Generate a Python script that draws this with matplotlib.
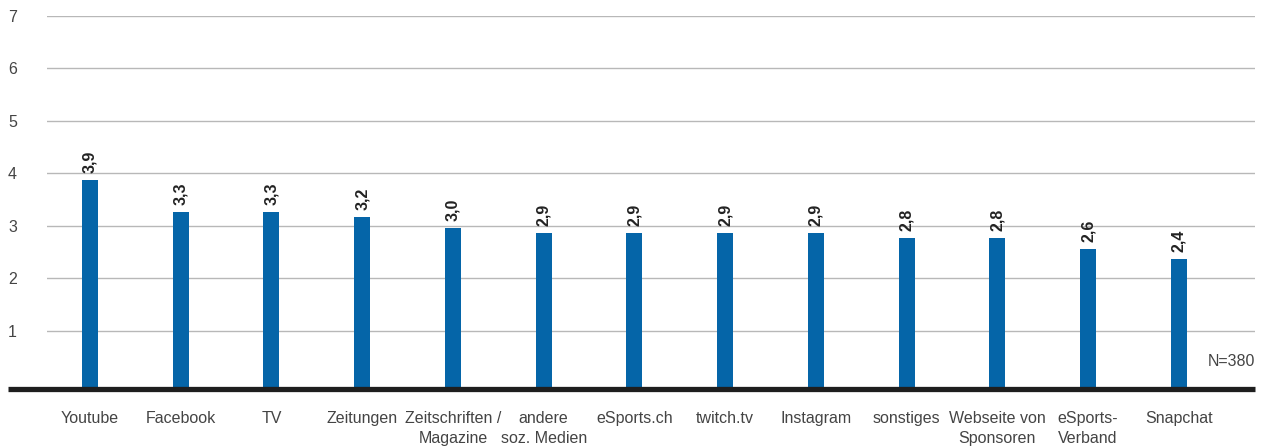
import numpy as np
import matplotlib
matplotlib.use("Agg")
import matplotlib.pyplot as plt
from matplotlib.lines import Line2D

plt.rcParams['font.family'] = ['Liberation Sans', 'DejaVu Sans']

# Daten
kategorien = ["Youtube", "Facebook", "TV", "Zeitungen", "Zeitschriften /\nMagazine",
              "andere\nsoz. Medien", "eSports.ch", "twitch.tv", "Instagram", "sonstiges",
              "Webseite von\nSponsoren", "eSports-\nVerband", "Snapchat"]
werte = [3.88, 3.26, 3.26, 3.17, 2.96, 2.86, 2.86, 2.86, 2.86, 2.77, 2.77, 2.56, 2.36]
labels = ["3,9", "3,3", "3,3", "3,2", "3,0", "2,9", "2,9", "2,9", "2,9", "2,8", "2,8", "2,6", "2,4"]
yticks = [1, 2, 3, 4, 5, 6, 7]

W, H = 1264, 448
fig = plt.figure(figsize=(W/100, H/100), dpi=100)

# Achsen in Pixeln
ax_left, ax_right = 47, 1255
ax_top, ax_bot = 16, 388.3
ax = fig.add_axes([ax_left/W, (H-ax_bot)/H, (ax_right-ax_left)/W, (ax_bot-ax_top)/H])

y0 = -0.1
x = np.arange(len(werte))
farbe = '#0565a8'
ax.bar(x, np.array(werte) - y0, bottom=y0, width=0.176, color=farbe, zorder=3)

for xi, v, lab in zip(x, werte, labels):
    ax.annotate(lab, (xi, v), xytext=(0, 5), textcoords='offset points',
                rotation=90, ha='center', va='bottom', fontsize=11.5,
                fontweight='bold', color='#222222')

ax.set_xlim(-0.474, 12.84)
ax.set_ylim(y0, 7)
ax.set_yticks(yticks)
ax.set_yticklabels([str(t) for t in yticks])
ax.grid(axis='y', color='#b8b8b8', linewidth=1.0, zorder=0)
ax.tick_params(axis='y', length=0, pad=28, labelsize=11.5, labelcolor='#444444')
for lab in ax.get_yticklabels():
    lab.set_horizontalalignment('left')
ax.set_xticks(x)
ax.set_xticklabels(kategorien, fontsize=11.5, color='#444444', linespacing=1.45)
ax.tick_params(axis='x', length=0, pad=16)
for s in ax.spines.values():
    s.set_visible(False)

# dicke Grundlinie
fig.add_artist(Line2D([8/W, 1255/W], [(H-388.7)/H, (H-388.7)/H],
                      color='#1e1e1e', linewidth=3.8, solid_capstyle='butt'))

ax.text(1255/W, (H-361)/H, "N=380", transform=fig.transFigure, ha='right', va='center',
        fontsize=11.5, color='#444444')

fig.savefig("out.png", dpi=100)
